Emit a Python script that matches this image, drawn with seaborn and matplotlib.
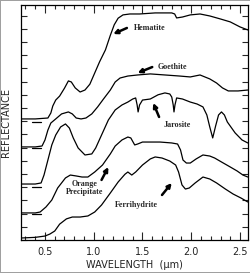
import numpy as np
import pandas as pd
import matplotlib
matplotlib.use('Agg')
import matplotlib.pyplot as plt
from matplotlib.ticker import MultipleLocator
import seaborn as sns

sns.set_style('ticks')
plt.rcParams['font.family'] = ['DejaVu Sans']

# spectra, offset for clarity (reflectance in arbitrary units)
hematite_wl = [0.25, 0.40, 0.53, 0.56, 0.58, 0.61, 0.65, 0.70, 0.74, 0.77, 0.81, 0.86, 0.91, 0.96,
               1.01, 1.06, 1.12, 1.17, 1.21, 1.25, 1.30, 1.37, 1.47, 1.63, 1.73, 1.80, 1.83, 1.85,
               1.91, 1.99, 2.09, 2.19, 2.30, 2.40, 2.50, 2.58]
hematite_r = [9.17, 9.17, 9.24, 9.62, 10.15, 10.6, 10.9, 11.5, 12.05, 11.97, 11.52, 11.21, 11.36, 11.8,
              12.65, 13.5, 14.4, 15.5, 16.3, 16.8, 17.05, 17.12, 17.12, 17.2, 17.2, 17.2, 17.12, 16.82,
              16.89, 17.05, 17.12, 16.97, 16.74, 16.52, 16.14, 15.91]

goethite_wl = [0.25, 0.40, 0.47, 0.50, 0.53, 0.56, 0.61, 0.67, 0.74, 0.78, 0.82, 0.87, 0.92, 0.98,
               1.04, 1.10, 1.17, 1.22, 1.27, 1.35, 1.45, 1.58, 1.73, 1.88, 1.99, 2.09, 2.19, 2.26,
               2.32, 2.38, 2.48, 2.58]
goethite_r = [7.05, 7.05, 7.12, 7.58, 8.33, 8.86, 9.17, 9.55, 9.7, 9.55, 9.24, 9.17, 9.24, 9.55,
              10.08, 10.68, 11.36, 11.97, 12.27, 12.42, 12.5, 12.58, 12.5, 12.42, 12.35, 12.5, 12.2, 11.89,
              11.52, 11.29, 11.29, 11.36]

jarosite_wl = [0.25, 0.40, 0.46, 0.49, 0.53, 0.57, 0.61, 0.66, 0.71, 0.75, 0.79, 0.84, 0.91, 0.98,
               1.02, 1.08, 1.15, 1.22, 1.29, 1.35, 1.40, 1.43, 1.445, 1.455, 1.47, 1.50, 1.58, 1.66,
               1.73, 1.78, 1.80, 1.815, 1.823, 1.833, 1.85, 1.91, 1.99, 2.06, 2.12, 2.16, 2.19, 2.22,
               2.25, 2.28, 2.31, 2.34, 2.37, 2.45, 2.52, 2.58]
jarosite_r = [4.24, 4.24, 4.32, 4.92, 6.06, 7.2, 7.95, 8.56, 8.79, 8.48, 7.73, 6.97, 6.44, 6.52,
              6.97, 7.95, 9.09, 9.85, 10.23, 10.45, 10.68, 10.76, 10.23, 9.7, 10.23, 10.6, 10.68, 11.0,
              11.14, 11.06, 10.83, 10.23, 9.7, 10.23, 10.76, 10.68, 10.45, 10.3, 10.08, 9.47, 8.56, 7.73,
              8.64, 9.47, 9.7, 9.47, 8.94, 8.11, 7.58, 7.35]

orange_wl = [0.25, 0.40, 0.45, 0.51, 0.57, 0.63, 0.71, 0.76, 0.82, 0.88, 0.94, 1.01, 1.09, 1.17,
             1.22, 1.29, 1.35, 1.38, 1.42, 1.45, 1.50, 1.58, 1.68, 1.80, 1.86, 1.89, 1.915, 1.95,
             1.99, 2.05, 2.12, 2.19, 2.24, 2.31, 2.40, 2.47, 2.53, 2.58]
orange_r = [2.05, 2.05, 2.12, 2.5, 3.03, 3.94, 4.7, 4.92, 4.85, 4.77, 4.77, 5.15, 5.68, 6.52,
            7.12, 7.58, 7.8, 7.73, 7.2, 7.27, 7.42, 7.42, 7.42, 7.35, 7.27, 6.82, 6.06, 5.83,
            5.83, 6.14, 6.44, 6.36, 6.21, 5.91, 5.53, 5.23, 4.92, 4.77]

ferri_wl = [0.25, 0.40, 0.50, 0.55, 0.60, 0.65, 0.72, 0.78, 0.86, 0.94, 1.01, 1.08, 1.17, 1.25,
            1.32, 1.35, 1.39, 1.43, 1.50, 1.58, 1.63, 1.70, 1.78, 1.84, 1.87, 1.905, 1.94, 1.98,
            2.04, 2.12, 2.19, 2.26, 2.35, 2.43, 2.51, 2.58]
ferri_r = [0.15, 0.2, 0.3, 0.45, 0.68, 1.2, 1.6, 1.74, 1.74, 1.82, 2.12, 2.65, 3.56, 4.39,
           4.98, 5.15, 4.92, 5.15, 5.68, 6.14, 6.29, 6.21, 5.98, 5.68, 5.15, 4.17, 3.86, 3.94,
           4.32, 4.77, 4.62, 4.32, 3.86, 3.48, 3.18, 2.88]

# small offset marks near the left edge
offset_marks = [8.94, 6.97, 4.02, 1.97]

labels = [
    # text, text xy, arrow tail, arrow head
    ('Hematite', (1.57, 16.06), (1.34, 16.06), (1.20, 15.6)),
    ('Goethite', (1.81, 13.1), (1.60, 13.1), (1.45, 12.65)),
    ('Jarosite', (1.86, 8.71), (1.67, 9.32), (1.61, 10.38)),
    ('Orange\nPrecipitate', (0.91, 3.95), (1.08, 4.55), (1.15, 5.53)),
    ('Ferrihydrite', (1.44, 2.65), (1.70, 3.41), (1.80, 4.32)),
]

frames = []
for name, wl, r in [('Hematite', hematite_wl, hematite_r), ('Goethite', goethite_wl, goethite_r),
                    ('Jarosite', jarosite_wl, jarosite_r), ('Orange Precipitate', orange_wl, orange_r),
                    ('Ferrihydrite', ferri_wl, ferri_r)]:
    frames.append(pd.DataFrame({'wl': wl, 'r': r, 'mineral': name}))
df = pd.concat(frames, ignore_index=True)

fig = plt.figure(figsize=(2.51, 2.73), dpi=100)
fig.patch.set_edgecolor('#a0a0a0')
fig.patch.set_linewidth(1.2)
ax = fig.add_axes([21 / 251, 33 / 273, 227 / 251, 235 / 273])

sns.lineplot(data=df, x='wl', y='r', units='mineral', estimator=None, sort=False,
             color='black', lw=0.9, ax=ax)

for yv in offset_marks:
    ax.plot([0.37, 0.46], [yv, yv], color='black', lw=0.9)

for txt, txy, tail, head in labels:
    ax.text(txy[0], txy[1], txt, ha='center', va='center', fontsize=5.8,
            fontweight='bold', family='Liberation Serif', linespacing=1.1)
    ax.annotate('', xy=head, xytext=tail,
                arrowprops=dict(arrowstyle='-|>', color='black', lw=1.8, mutation_scale=6,
                                shrinkA=0, shrinkB=0))

ax.set_xlim(0.254, 2.582)
ax.set_ylim(0, 17.8)
ax.xaxis.set_major_locator(MultipleLocator(0.5))
ax.xaxis.set_minor_locator(MultipleLocator(0.1))
ax.yaxis.set_major_locator(MultipleLocator(1))
ax.set_xticks([0.5, 1.0, 1.5, 2.0, 2.5])
ax.set_xticklabels(['0.5', '1.0', '1.5', '2.0', '2.5'])
ax.tick_params(axis='x', which='major', direction='in', length=6, width=0.8,
               top=True, labelsize=7, pad=5, labelcolor='#222222')
ax.tick_params(axis='x', which='minor', direction='in', length=3, width=0.8, top=True)
ax.tick_params(axis='y', which='major', direction='in', length=4, width=0.8,
               right=True, labelleft=False)
for s in ax.spines.values():
    s.set_linewidth(0.9)
    s.set_color('black')

ax.set_xlabel('WAVELENGTH  (\u03bcm)', fontsize=7, labelpad=2, color='#222222')
ax.set_ylabel('REFLECTANCE', fontsize=7, labelpad=3, color='#222222')
ax.yaxis.set_label_coords(-0.045, 0.5)

fig.savefig('out.png', dpi=100)
